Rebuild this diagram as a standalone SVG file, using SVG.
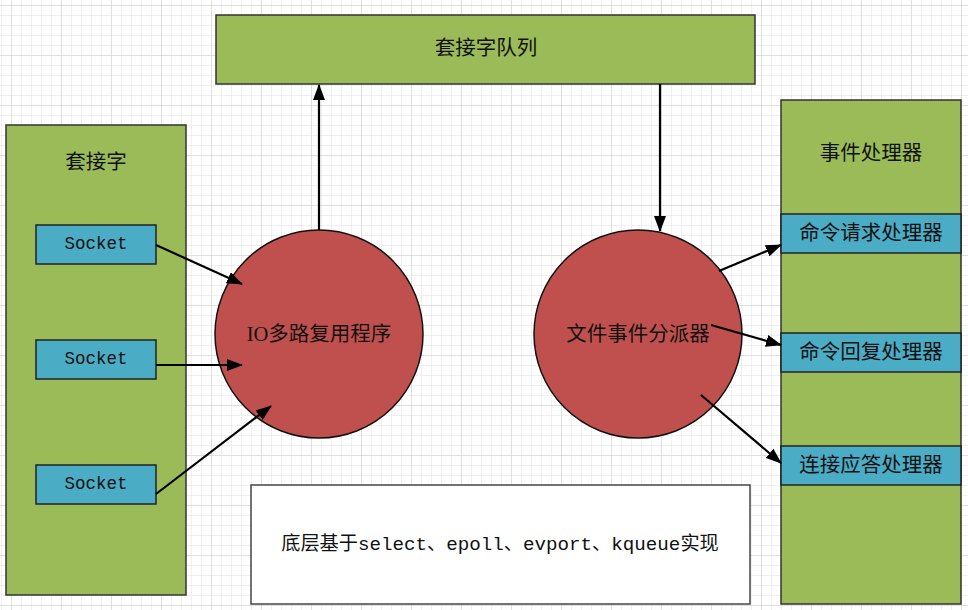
<svg xmlns="http://www.w3.org/2000/svg" width="968" height="610" viewBox="0 0 968 610">
<defs>
<pattern id="fine" x="1" y="5" width="10" height="10" patternUnits="userSpaceOnUse">
<path d="M0 0H10M0 0V10" fill="none" stroke="#e2e2e2" stroke-width="1"/>
</pattern>
<pattern id="coarse" x="11" y="5" width="50" height="50" patternUnits="userSpaceOnUse">
<path d="M0 0H50M0 0V50" fill="none" stroke="#cdcdcd" stroke-width="1"/>
</pattern>
<marker id="ah" viewBox="0 0 16 12" refX="15" refY="6" markerWidth="16" markerHeight="12" markerUnits="userSpaceOnUse" orient="auto">
<path d="M0 0L16 6L0 12Z" fill="#000"/>
</marker>
</defs>
<style>
.green{fill:#9bbb59;stroke:#333;stroke-width:1.5}
.blue{fill:#4bacc6;stroke:#222;stroke-width:1.5}
.red{fill:#c0504d;stroke:#111;stroke-width:1.5}
.white{fill:#fff;stroke:#444;stroke-width:1.5}
.cjk{font-family:"Liberation Serif","Noto Sans CJK SC",serif;font-size:20.5px;fill:#111;text-anchor:middle;dominant-baseline:central}
.mono{font-family:"Liberation Mono","Noto Sans CJK SC",monospace;font-size:17.5px;fill:#111;text-anchor:middle;dominant-baseline:central}
.note{font-family:"Liberation Mono","Noto Sans CJK SC",monospace;font-size:19.2px;fill:#111;text-anchor:middle;dominant-baseline:central}
.conn{stroke:#000;stroke-width:2.2;fill:none;marker-end:url(#ah)}
</style>
<rect width="968" height="610" fill="#fff"/>
<rect width="968" height="610" fill="url(#fine)"/>
<rect width="968" height="610" fill="url(#coarse)"/>

<g id="queue"><rect class="green" x="216" y="15" width="539" height="69"/><text class="cjk" x="486" y="48">套接字队列</text></g>

<g id="sockets"><rect class="green" x="6" y="125" width="180" height="470"/><text class="cjk" x="96" y="162">套接字</text></g>
<g id="socket1"><rect class="blue" x="36" y="225" width="120" height="39"/><text class="mono" x="96" y="244">Socket</text></g>
<g id="socket2"><rect class="blue" x="36" y="340" width="120" height="39"/><text class="mono" x="96" y="359">Socket</text></g>
<g id="socket3"><rect class="blue" x="36" y="465" width="120" height="39"/><text class="mono" x="96" y="484">Socket</text></g>

<g id="io"><circle class="red" cx="319" cy="334" r="104"/><text class="cjk" x="319" y="334">IO多路复用程序</text></g>
<g id="dispatcher"><circle class="red" cx="638" cy="334" r="104"/><text class="cjk" x="638" y="334">文件事件分派器</text></g>

<g id="handlers"><rect class="green" x="781" y="100" width="180" height="504"/><text class="cjk" x="871" y="153">事件处理器</text></g>
<g id="h1"><rect class="blue" x="781" y="214" width="180" height="39"/><text class="cjk" x="871" y="233">命令请求处理器</text></g>
<g id="h2"><rect class="blue" x="781" y="333" width="180" height="39"/><text class="cjk" x="871" y="352">命令回复处理器</text></g>
<g id="h3"><rect class="blue" x="781" y="446" width="180" height="39"/><text class="cjk" x="871" y="465">连接应答处理器</text></g>

<g id="note"><rect class="white" x="251" y="485" width="499" height="119"/><text class="note" x="500" y="545">底层基于select、epoll、evport、kqueue实现</text></g>

<g id="connectors">
<line class="conn" x1="156" y1="245" x2="242" y2="284"/>
<line class="conn" x1="156" y1="365" x2="242" y2="365"/>
<line class="conn" x1="156" y1="494" x2="271" y2="406"/>
<line class="conn" x1="319" y1="230" x2="319" y2="85"/>
<line class="conn" x1="660" y1="84" x2="660" y2="231"/>
<line class="conn" x1="719" y1="271" x2="781" y2="245"/>
<line class="conn" x1="711" y1="325" x2="781" y2="345"/>
<line class="conn" x1="701" y1="395" x2="781" y2="463"/>
</g>
</svg>
